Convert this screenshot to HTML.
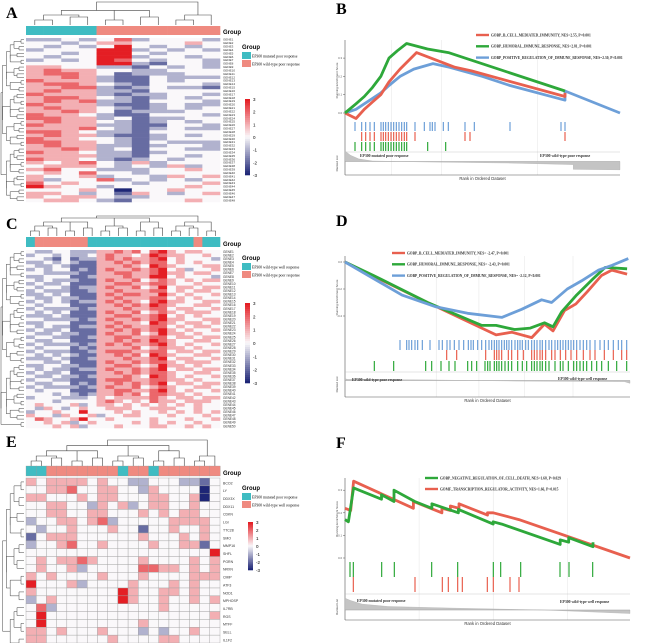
<!DOCTYPE html>
<html><head><meta charset="utf-8">
<style>
html,body{margin:0;padding:0;background:#fff;}
svg{display:block;font-family:"Liberation Sans",sans-serif;}
.ser{font-family:"Liberation Serif",serif;}
</style></head>
<body>
<svg id="fig" width="669" height="643" viewBox="0 0 669 643" xmlns="http://www.w3.org/2000/svg">
<g class="ser" font-weight="bold" font-size="16">
<text x="6" y="18">A</text>
<text x="336" y="14">B</text>
<text x="6" y="229">C</text>
<text x="336" y="226">D</text>
<text x="6" y="447">E</text>
<text x="336" y="448">F</text>
</g>
<g id="layer"></g>
</svg>
<script>
// ---------- Heatmap data (digits 0..6 => -3..3) ----------
const heatA = ["22323523332","33234433343","32323632323","23336623232","33236632333","32336623323","23236532332","33336621332","44332213232","45443322333","45543122233","44542113222","54442113233","45543213332","44552123221","45442213333","54442122332","45543212323","45452213332","54442112322","45443212323","44543122233","54432113332","55442312233","45443212323","54442211332","44453212322","55432213333","45442112323","54433212333","55443213222","45442212332","44542313322","54432212333","44442213323","54432123233","43453242333","34443232423","45332223343","34353323333","43342332434","42335232323","53433323334","64332333343","33343033433","44323143234","43443223333","34432133343"];
const groupA = [0,0,0,0,1,1,1,1,1,1,1];
const heatC = ["3223322244545356434433","2332322345443465443343","3321312245454456343332","2232321144545455343433","3223211144454365433344","2323312145445456342334","3322221144554456443443","2233311244454466343332","3232221145445345434344","2322311144554455433433","3233212245445346344344","2322211244544455343443","2232311145455446434334","3223221144544455343433","2323212245454356443344","3233311144545465433443","2322221244454455344334","3232311145445345434443","2223211144554456343433","3322221245445456443344","2233311144544365434434","3232212245454455343443","2322311144545456434334","3223221145445346443433","2332211244554455344344","3223311144545465433443","2322221245454456434334","3233312144445345443433","2322211245554455344344","3232321144545365433443","2223211244454456344334","3322311145445455434443","2233221144554346443433","3232212245445456344344","2322311144545455433443","3223221244454365434334","2332211145554455443433","3223312144545456344344","2322221245445345433443","3233311144554456434334","3332321244545355443433","2333222343444454344344","3332333345434354434443","3433342344343434343433","3243234334443344433433","2334336333434334343434","4332433423344333433343","3543346334333343334334","3343423433334343433433","3334342333433344334343"];
const groupC = [0,1,1,1,1,1,1,0,0,0,0,0,0,0,0,0,0,0,0,1,0,0];
const heatE = ["4344443433223332213","3344533443324333303","4433343443334433403","3344332434234433433","3344334433343434433","2334434523333344443","3233433343313343343","1344433333343334343","2334533433334334413","3333333333333333336","3434454333343333434","3433423333355443434","4343333433343333444","6333423333433343433","4333333336433443433","2343333336433433434","3523333333333433333","3633333333333333334","3633333333343333333","4434333433323233433","4433333343333443333"];
const groupE = [0,0,1,1,1,1,1,1,1,0,1,1,0,1,1,1,1,1,1];
const rowLabelsE = ["BCO2","LY","DDX3X","DDX11","CDKN","LGI","TTC28","SMO","MMP16","SHFL","PGRN","NRXN","CMIP","ATF3","NOD1","MPHOSP","IL7RB","RGS","MTFF","SELL","IL1F2"];
const tickLabels = ["3","2","1","0","-1","-2","-3"];

// ---------- GSEA data (x = fraction of ranked list, y = enrichment score) ----------
const bRedX = [0,0.04,0.07,0.1,0.13,0.16,0.2,0.26,0.4,0.46,0.8,0.8];
const bRedY = [0,-0.03,0.02,0.06,0.1,0.17,0.24,0.33,0.25,0.23,0.09,0.11];
const bGreenX = [0,0.04,0.07,0.1,0.13,0.16,0.19,0.224,0.3,0.376,0.8];
const bGreenY = [0,0.05,0.09,0.14,0.2,0.3,0.34,0.38,0.35,0.33,0.12];
const bBlueX = [0,0.04,0.07,0.1,0.13,0.16,0.2,0.25,0.32,0.38,0.5,0.6,0.8,0.8,1];
const bBlueY = [0,0.02,0.05,0.08,0.11,0.15,0.2,0.24,0.27,0.25,0.2,0.15,0.07,0.12,0];
const bHitsBlue = [60,80,92,105,118,138,145,152,160,168,176,184,192,200,208,215,240,268,285,292,300,325,340,390,418,525,678,690];
const bHitsRed = [80,92,105,118,138,145,152,160,168,176,184,192,200,208,215,240,390,405,690];
const bHitsGreen = [60,80,92,105,118,138,145,152,160,168,176,184,192,200,208,215,278,332];
const bRankX = [0,0.02,0.05,0.1,0.3,0.6,0.83,0.83,1];
const bRankY = [1.0,0.6,0.25,0.05,-0.05,-0.15,-0.3,-0.75,-0.8];

const dRedX = [0,0.105,0.29,0.48,0.53,0.585,0.655,0.7,0.73,0.77,0.81,0.85,0.9,0.936,0.99];
const dRedY = [0,-0.11,-0.3,-0.49,-0.54,-0.52,-0.56,-0.46,-0.51,-0.36,-0.31,-0.22,-0.1,-0.06,-0.09];
const dGreenX = [0,0.1,0.29,0.48,0.53,0.595,0.65,0.7,0.73,0.76,0.81,0.87,0.913,0.99];
const dGreenY = [0,-0.1,-0.3,-0.47,-0.47,-0.5,-0.49,-0.45,-0.48,-0.37,-0.25,-0.125,-0.04,-0.05];
const dBlueX = [0,0.2,0.316,0.43,0.55,0.62,0.69,0.725,0.78,0.83,0.89,0.936,0.994];
const dBlueY = [0,-0.245,-0.33,-0.38,-0.41,-0.35,-0.28,-0.3,-0.2,-0.14,-0.06,-0.025,0.025];
const dHitsBlue = [195,215,222,230,240,248,262,285,312,322,336,345,358,372,386,400,408,415,428,440,452,462,470,478,485,492,500,508,515,522,530,540,548,555,562,572,580,590,598,606,615,622,632,642,650,660,668,676,684,692,700,708,716,725,735,745,755,765,780,795,808,820,835,850,860,875];
const dHitsRed = [335,365,452,478,485,492,500,520,530,548,565,590,598,606,615,622,632,650,660,676,692,708,725,745,765,780,808,835,860,875];
const dHitsGreen = [118,176,272,290,318,342,360,398,410,425,450,458,465,478,485,492,500,510,520,530,548,562,575,590,598,606,615,622,632,642,660,676,684,700,716,725,735,745,755,770,785,800,820,845,875];
const dRankX = [0,0.01,0.3,0.6,0.98,1];
const dRankY = [0.15,0.1,0.05,-0.05,-0.1,-0.25];

const fGreenX = [0,0.012,0.03,0.128,0.128,0.172,0.172,0.245,0.305,0.305,0.398,0.398,0.52,0.52,0.55,0.755,0.755,0.785,0.785,0.87,0.87];
const fGreenY = [0.17,0.16,0.31,0.26,0.28,0.25,0.3,0.25,0.22,0.24,0.2,0.215,0.15,0.16,0.15,0.06,0.08,0.07,0.09,0.05,0.07];
const fRedX = [0,0.02,0.03,0.24,0.24,0.34,0.34,0.37,0.37,0.4,0.4,0.5,0.5,0.52,0.58,0.61,1];
const fRedY = [0.22,0.21,0.34,0.22,0.25,0.2,0.22,0.21,0.23,0.22,0.24,0.19,0.2,0.2,0.18,0.17,0];
const fHitsGreen = [45,55,140,178,290,368,475,497,557,675,702,773];
const fHitsRed = [55,240,322,340,368,382,457,475,525,552];
const fRankX = [0,0.02,0.06,0.15,0.4,0.7,1];
const fRankY = [1.0,0.8,0.5,0.3,0.15,0.0,-0.3];

const NS = "http://www.w3.org/2000/svg";
const layer = document.getElementById('layer');
function mk(tag, attrs, parent){const e=document.createElementNS(NS,tag);for(const k in attrs)e.setAttribute(k,attrs[k]);(parent||layer).appendChild(e);return e;}
function lerp(a,b,t){return Math.round(a+(b-a)*t);}
function heatColor(v){
  const t=Math.min(1,Math.abs(v)/3);
  if(v>=0) return `rgb(${lerp(250,228,t)},${lerp(248,30,t)},${lerp(250,36,t)})`;
  return `rgb(${lerp(250,30,t)},${lerp(248,38,t)},${lerp(250,118,t)})`;
}
const CYAN="#3fbcc2", SALMON="#ef8a80";

function heatmap(name, rows, groups, x0, y0, w, h, gy, gh, stroke){
  const g=mk('g',{});
  
  
  const nc=groups.length, nr=rows.length, cw=w/nc, rh=h/nr;
  groups.forEach((gv,i)=>{
    const r=mk('rect',{x:x0+i*cw,y:gy,width:cw+0.3,height:gh,fill:gv?SALMON:CYAN,stroke:stroke?'#999':'none','stroke-width':0.3},g);
    
    
  });
  rows.forEach((row,ri)=>{
    for(let ci=0;ci<nc;ci++){
      const ch=row[ci]===undefined?'3':row[ci];
      const v=parseInt(ch,10)-3;
      const r=mk('rect',{x:x0+ci*cw,y:y0+ri*rh,width:cw+(stroke?0:0.3),height:rh+(stroke?0:0.3),fill:heatColor(v),stroke:stroke?'#a0a0a0':'none','stroke-width':0.4},g);
      
      
    }
  });
  const t=mk('text',{x:x0+w+3,y:gy+gh-1,'font-size':6,'font-weight':'bold'},g);
  t.textContent='Group';
  
  
}
function legend(name,x,y,l1,l2){
  const g=mk('g',{});
  
  
  const t=mk('text',{x:x,y:y,'font-size':6,'font-weight':'bold'},g);t.textContent='Group';
  const a=mk('rect',{x:x,y:y+3,width:9,height:7,fill:CYAN},g);
  
  
  const b=mk('rect',{x:x,y:y+11,width:9,height:7,fill:SALMON},g);
  
  
  const t1=mk('text',{x:x+10,y:y+8.5,'font-size':3.8,class:'ser'},g);t1.textContent=l1;
  const t2=mk('text',{x:x+10,y:y+16.5,'font-size':3.8,class:'ser'},g);t2.textContent=l2;
}
function colorbar(name,x,y,h){
  const g=mk('g',{});
  
  
  const n=40;
  for(let i=0;i<n;i++){mk('rect',{x:x,y:y+i*h/n,width:5,height:h/n+0.3,fill:heatColor(3-6*i/(n-1))},g);}
  tickLabels.forEach((lab,i)=>{const t=mk('text',{x:x+8,y:y+i*h/6+2,'font-size':4.5},g);t.textContent=lab;});
}
function rowLabels(x,y0,h,n,labels){
  const g=mk('g',{'font-size':Math.min(3.5,h/n*0.9),fill:'#333'});
  
  
  for(let i=0;i<n;i++){const t=mk('text',{x:x,y:y0+(i+0.8)*h/n},g);t.textContent=labels?labels[i]:('GENE'+(i+1));}
}
function dendroLeft(x0,x1,y0,y1,n){
  const g=mk('g',{fill:'none',stroke:'#444','stroke-width':0.5});
  
  
  const rh=(y1-y0)/n; let d='';
  const mids=[];
  for(let i=0;i<n;i+=2){const a=y0+(i+0.5)*rh,b=y0+(i+1.5)*rh, xx=x1-3-(i%6);d+=`M${x1} ${a}H${xx}V${b}H${x1}`;mids.push([(a+b)/2,xx]);}
  let level=mids, w=(x1-x0)/6;
  let lx=x1-10;
  while(level.length>1){const nxt=[];for(let i=0;i<level.length;i+=2){if(i+1>=level.length){nxt.push(level[i]);continue;}const A=level[i],B=level[i+1];const nx=Math.max(x0,lx-w*((i/2)%2));d+=`M${A[1]} ${A[0]}H${nx}V${B[0]}H${B[1]}`;nxt.push([(A[0]+B[0])/2,nx]);}level=nxt;lx-=w;}
  mk('path',{d:d},g);
}
function dendroTop(x0,x1,y0,y1,n){
  const g=mk('g',{fill:'none',stroke:'#444','stroke-width':0.6});
  
  
  const cw=(x1-x0)/n; let d=''; const mids=[];
  for(let i=0;i<n;i+=2){const a=x0+(i+0.5)*cw; const b=x0+Math.min(i+1.5,n-0.5)*cw; const yy=y1-5-(i%4)*1.5; d+=`M${a} ${y1}V${yy}H${b}V${y1}`; mids.push([(a+b)/2,yy]);}
  let level=mids, st=(y1-y0)/5, ly=y1-10;
  while(level.length>1){const nxt=[];for(let i=0;i<level.length;i+=2){if(i+1>=level.length){nxt.push(level[i]);continue;}const A=level[i],B=level[i+1];const ny=Math.max(y0,ly-st*((i/2)%2)-(level.length<=2?st*2:0));d+=`M${A[0]} ${A[1]}V${ny}H${B[0]}V${B[1]}`;nxt.push([(A[0]+B[0])/2,ny]);}level=nxt;ly-=st;}
  mk('path',{d:d},g);
}

// ---- Panel A ----
dendroTop(26,220,2,25,11);
heatmap('heatmap-a',heatA,groupA,26,38,194,164,26,9,false);
dendroLeft(1,24,38,202,48);
rowLabels(223,38,164,48);
legend('legend-a',242,49,'EP300 mutated poor response','EP300 wild-type poor response');
colorbar('colorbar-a',245,99,76);
// ---- Panel C ----
dendroTop(26,220,216,236,22);
heatmap('heatmap-c',heatC,groupC,26,250,194,178,237,10,false);
dendroLeft(1,24,250,428,50);
rowLabels(223,250,178,50);
legend('legend-c',242,260,'EP300 wild-type well response','EP300 wild-type poor response');
colorbar('colorbar-c',245,303,80);
// ---- Panel E ----
dendroTop(26,220,440,466,19);
heatmap('heatmap-e',heatE,groupE,26,478,194,165,466,10,true);
dendroLeft(1,24,478,643,21);
rowLabels(223,478,165,21,rowLabelsE);
legend('legend-e',242,490,'EP300 mutated poor response','EP300 wild-type well response');
colorbar('colorbar-e',248,522,48);

// ---------- GSEA ----------
function gsea(cfg){
  const g=mk('g',{});
  
  
  const X=f=>cfg.x0+f*(cfg.x1-cfg.x0);
  const Xz=zx=>cfg.x0+(zx-30)/cfg.zw*(cfg.x1-cfg.x0);
  const Y=v=>cfg.y0-v*cfg.ys;
  cfg.grid.forEach(f=>mk('line',{x1:X(f),x2:X(f),y1:cfg.top,y2:cfg.bottom,stroke:'#e4e4e4','stroke-width':0.5},g));
  mk('line',{x1:cfg.x0,x2:cfg.x0,y1:cfg.top,y2:cfg.bottom,stroke:'#555','stroke-width':0.6},g);
  mk('line',{x1:cfg.x0,x2:cfg.x1,y1:cfg.bottom,y2:cfg.bottom,stroke:'#555','stroke-width':0.6},g);
  mk('line',{x1:cfg.x0,x2:cfg.x1,y1:cfg.rankTop,y2:cfg.rankTop,stroke:'#bbb','stroke-width':0.4},g);
  cfg.ticks.forEach(v=>{mk('line',{x1:cfg.x0-2,x2:cfg.x0,y1:Y(v),y2:Y(v),stroke:'#555','stroke-width':0.5},g);const t=mk('text',{x:cfg.x0-3,y:Y(v)+1,'font-size':2.8,'text-anchor':'end',fill:'#555'},g);t.textContent=v.toFixed(1);});
  const yt=mk('text',{x:0,y:0,'font-size':3,fill:'#444',transform:`translate(${cfg.x0-7},${(cfg.top+cfg.hitsTop)/2}) rotate(-90)`,'text-anchor':'middle'},g);yt.textContent='Running Enrichment Score';
  const yr=mk('text',{x:0,y:0,'font-size':3,fill:'#444',transform:`translate(${cfg.x0-7},${(cfg.rankTop+cfg.bottom)/2}) rotate(-90)`,'text-anchor':'middle'},g);yr.textContent='Ranked List';
  const rz=(cfg.rankTop+cfg.bottom)/2+cfg.rankZeroOff, rs=(cfg.bottom-cfg.rankTop)/2.2;
  let d=`M${X(cfg.rankX[0])} ${rz}`;
  cfg.rankX.forEach((f,i)=>{d+=`L${X(f)} ${rz-cfg.rankY[i]*rs}`;});
  d+=`L${X(cfg.rankX[cfg.rankX.length-1])} ${rz}Z`;
  const ra=mk('path',{d:d,fill:'#c4c4c4',stroke:'#aaa','stroke-width':0.3},g);
  
  
  mk('line',{x1:cfg.x0,x2:cfg.x1,y1:rz,y2:rz,stroke:'#999','stroke-width':0.3},g);
  cfg.hits.forEach(h=>{h.pos.forEach(zx=>{const l=mk('line',{x1:Xz(zx),x2:Xz(zx),y1:h.y0,y2:h.y1,stroke:h.color,'stroke-width':1.2},g);
    
    });});
  cfg.series.forEach(s=>{
    const pts=s.x.map((f,i)=>`${X(f).toFixed(1)},${Y(s.y[i]).toFixed(1)}`).join(' ');
    const p=mk('polyline',{points:pts,fill:'none',stroke:s.color,'stroke-width':2.8,'stroke-linejoin':'round'},g);
    
    
  });
  cfg.legend.forEach((L,i)=>{
    const ly=cfg.legY+i*cfg.legStep;
    const ll=mk('line',{x1:cfg.legX,x2:cfg.legX+13,y1:ly,y2:ly,stroke:L.color,'stroke-width':2.4},g);
    
    
    const t=mk('text',{x:cfg.legX+15,y:ly+1.3,'font-size':3.6,'font-weight':'bold',class:'ser',fill:'#333'},g);t.textContent=L.text;
  });
  cfg.notes.forEach(n=>{const t=mk('text',{x:n.x,y:n.y,'font-size':3.8,'font-weight':'bold',class:'ser',fill:'#333'},g);t.textContent=n.t;});
  const xt=mk('text',{x:(cfg.x0+cfg.x1)/2,y:cfg.bottom+5,'font-size':4.2,'text-anchor':'middle',fill:'#333'},g);xt.textContent='Rank in Ordered Dataset';
}
const RED="#e8604f", GREEN="#2ea83a", BLUE="#6d9fd8";
gsea({name:'gsea-b',x0:345,x1:620,zw:825,y0:113,ys:183,top:40,bottom:175,hitsTop:121,rankTop:152,rankZeroOff:-2,
  ticks:[0,0.1,0.2,0.3],grid:[0.17,0.35,0.7],
  rankX:bRankX,rankY:bRankY,
  hits:[{pos:bHitsBlue,color:BLUE,y0:122,y1:131},{pos:bHitsRed,color:RED,y0:132,y1:141},{pos:bHitsGreen,color:GREEN,y0:142,y1:151}],
  series:[{x:bBlueX,y:bBlueY,color:BLUE,dname:'curve-positive-regulation'},{x:bRedX,y:bRedY,color:RED,dname:'curve-b-cell-immunity'},{x:bGreenX,y:bGreenY,color:GREEN,dname:'curve-humoral-immune'}],
  legX:476,legY:35,legStep:11.3,
  legend:[{color:RED,text:'GOBP_B_CELL_MEDIATED_IMMUNITY, NES=2.55, P<0.001'},{color:GREEN,text:'GOBP_HUMORAL_IMMUNE_RESPONSE, NES=2.81, P<0.001'},{color:BLUE,text:'GOBP_POSITIVE_REGULATION_OF_IMMUNE_RESPONSE, NES=2.30, P<0.001'}],
  notes:[{x:360,y:157,t:'EP300 mutated poor response'},{x:540,y:157,t:'EP300 wild-type poor response'}]});
gsea({name:'gsea-d',x0:345,x1:630,zw:855,y0:262,ys:135,top:256,bottom:397,hitsTop:339,rankTop:372,rankZeroOff:-4,
  ticks:[0,-0.2,-0.4],grid:[0.32,0.47,0.63,0.8],
  rankX:dRankX,rankY:dRankY,
  hits:[{pos:dHitsBlue,color:BLUE,y0:340,y1:350},{pos:dHitsRed,color:RED,y0:350,y1:360},{pos:dHitsGreen,color:GREEN,y0:361,y1:371}],
  series:[{x:dRedX,y:dRedY,color:RED,dname:'curve-b-cell-immunity'},{x:dGreenX,y:dGreenY,color:GREEN,dname:'curve-humoral-immune'},{x:dBlueX,y:dBlueY,color:BLUE,dname:'curve-positive-regulation'}],
  legX:392,legY:253,legStep:11.3,
  legend:[{color:RED,text:'GOBP_B_CELL_MEDIATED_IMMUNITY, NES= -2.47, P<0.001'},{color:GREEN,text:'GOBP_HUMORAL_IMMUNE_RESPONSE, NES= -2.43, P<0.001'},{color:BLUE,text:'GOBP_POSITIVE_REGULATION_OF_IMMUNE_RESPONSE, NES= -2.12, P<0.001'}],
  notes:[{x:352,y:381,t:'EP300 wild-type poor response'},{x:558,y:380,t:'EP300 wild-type well response'}]});
gsea({name:'gsea-f',x0:345,x1:630,zw:855,y0:558,ys:226,top:478,bottom:620,hitsTop:560,rankTop:594,rankZeroOff:3,
  ticks:[0,0.1,0.2,0.3],grid:[0.26,0.52,0.78],
  rankX:fRankX,rankY:fRankY,
  hits:[{pos:fHitsGreen,color:GREEN,y0:562,y1:577},{pos:fHitsRed,color:RED,y0:577,y1:592}],
  series:[{x:fRedX,y:fRedY,color:RED,dname:'curve-transcription-regulator'},{x:fGreenX,y:fGreenY,color:GREEN,dname:'curve-negative-regulation-cell-death'}],
  legX:425,legY:478,legStep:11,
  legend:[{color:GREEN,text:'GOBP_NEGATIVE_REGULATION_OF_CELL_DEATH, NES=1.68, P=0.029'},{color:RED,text:'GOMF_TRANSCRIPTION_REGULATOR_ACTIVITY, NES=1.66, P=0.015'}],
  notes:[{x:357,y:602,t:'EP300 mutated poor response'},{x:560,y:603,t:'EP300 wild-type well response'}]});
</script>
</body></html>
